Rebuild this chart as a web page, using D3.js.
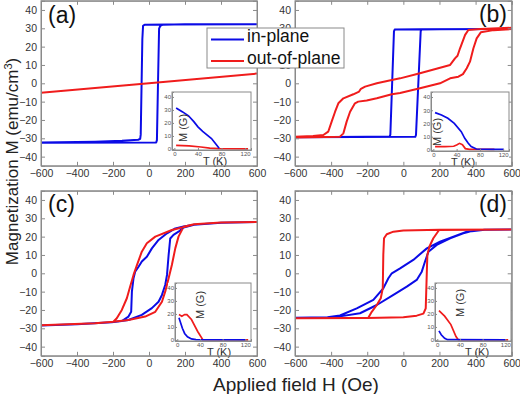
<!DOCTYPE html>
<html>
<head>
<meta charset="utf-8">
<script src="https://cdn.jsdelivr.net/npm/d3@7"></script>
<style>
  body { margin: 0; background: #fff; }
  text { font-family: "Liberation Sans", Arial, sans-serif; }
</style>
</head>
<body>
<svg id="chart" width="520" height="394"></svg>
<script>
// tick values
var fieldTicks = [-600, -400, -200, 0, 200, 400, 600]
var magTicks = [-40, -30, -20, -10, 0, 10, 20, 30, 40]
var tempTicks = [0, 40, 80, 120]
var insetMagTicks = [0, 10, 20, 30, 40]
var seriesNames = ['in-plane', 'out-of-plane']

// hysteresis loops [H (Oe), M (emu/cm3)], descending branch then ascending branch
var aInPlane = [[600,32.2],[100,32.1],[-25,31.9],[-33,31.4],[-37,24],[-46,-28],[-49,-30.3],[-60,-30.8],[-150,-31.4],[-300,-31.9],[-600,-32.3],
  [-600,-32.4],[40,-32.3],[44,-31],[50,0],[56,29.8],[63,31.4],[78,32],[200,32.2],[600,32.2]]
var aOutPlane = [[-600,-5.2],[0,0],[600,5.3]]

var bInPlane = [[600,29.6],[100,29.5],[-48,29.3],[-52,28.3],[-72,-28],[-76,-29.1],[-200,-29.2],[-600,-29.4],
  [-600,-29.4],[66,-29.2],[70,-28.2],[96,28.4],[100,29.3],[200,29.5],[600,29.6]]
var bOutPlane = [[600,30.3],[425,29.6],[360,29.1],[342,26.4],[314,19.1],[300,15],[286,13.6],[259,10],[92,5.5],[-18,2.7],[-64,1.8],[-147,0],[-212,-1.8],[-235,-3],[-245,-4.5],[-277,-6],[-332,-8.2],[-360,-10.9],[-378,-15.5],[-397,-20.9],[-416,-26.4],[-443,-28.2],[-500,-28.8],[-600,-29.2],
  [-600,-29.5],[-351,-29.1],[-332,-27.3],[-314,-20.9],[-295,-15.5],[-268,-10.9],[-250,-10],[-203,-9.4],[-147,-8.2],[-64,-6],[-18,-5.3],[92,-2.7],[203,0],[259,2.7],[305,3.6],[330,5],[351,8.2],[369,11.8],[388,19.1],[406,24.5],[429,27.8],[500,29],[600,29.6]]

var cInPlane = [[600,28],[400,27.6],[250,26.5],[192,25.5],[146,24.5],[100,21.8],[53,18.2],[16,13.6],[-12,9],[-40,6.4],[-58,3.6],[-77,0.9],[-86,-2.7],[-95,-10],[-99,-21],[-114,-23.6],[-151,-26],[-207,-26.7],[-400,-27.8],[-600,-28.5],
  [-600,-28.5],[-400,-27.8],[-207,-26.7],[-114,-25.5],[-40,-22.7],[16,-19],[53,-15.5],[72,-11.8],[90,-6.4],[100,-0.9],[109,10],[118,19],[136,21],[164,22.7],[192,25],[250,26.5],[400,27.6],[600,28]]
var cOutPlane = [[600,28],[400,27.7],[250,26.8],[201,25.4],[127,23.6],[35,20],[-12,16.4],[-40,11.8],[-67,4.5],[-86,-0.9],[-105,-7.3],[-123,-13.6],[-151,-20],[-179,-24.5],[-198,-26.4],[-300,-27.3],[-600,-28.3],
  [-600,-28.3],[-300,-27.3],[-198,-26.4],[-114,-25.5],[-21,-23.6],[35,-21],[72,-15.5],[90,-10],[109,-2.7],[127,4.5],[146,13.6],[164,20],[192,25.4],[250,26.8],[400,27.7],[600,28]]

var dInPlane = [[600,23.9],[450,23.7],[351,22.7],[277,20],[203,17.3],[130,13.6],[55,7.3],[-18,2.7],[-64,0],[-83,-2.7],[-111,-8.2],[-166,-14.5],[-258,-19.1],[-351,-23],[-420,-24],[-600,-24.3],
  [-600,-24.3],[-420,-24],[-351,-23.5],[-240,-21.8],[-147,-17.3],[-55,-11.8],[19,-7.3],[74,-3.6],[102,0.9],[120,6.4],[139,11.8],[185,15.5],[259,19.1],[332,21.8],[379,23],[450,23.7],[600,23.9]]
var dOutPlane = [[600,23.9],[200,23.7],[0,23.4],[-55,22.7],[-92,21.3],[-107,19.1],[-111,10],[-114,-8.2],[-125,-13.6],[-147,-17.3],[-175,-21],[-194,-24.2],[-300,-24.4],[-600,-24.5],
  [-600,-24.5],[-200,-24.4],[0,-24],[74,-23.1],[111,-22],[124,-19.1],[130,0.9],[133,10],[144,14.5],[166,19.1],[198,23.6],[400,23.8],[600,23.9]]

// insets: M (G) versus T (K)
var aInsetIn = [[3,31.5],[14,28.5],[24,25.5],[33,21],[40,17],[48,13.5],[63,8],[70,4],[76,0.5]]
var aInsetOut = [[3,2.8],[25,2.3],[45,1.5],[60,0.6],[75,0.2],[125,0.1]]
var bInsetIn = [[3,28.2],[14,26.4],[25,23.9],[36,20.1],[48,13.8],[54,8.8],[60,5],[65,2.5],[74,0.7],[100,0.5],[121,0.4]]
var bInsetOut = [[3,2.5],[20,2.5],[35,2.8],[40,3.8],[45,5],[50,4],[55,1],[62,0.4],[105,0.4]]
var cInsetIn = [[3,17],[6,13],[9,9],[13,5],[18,2.5],[25,0.8],[33,0.2],[120,0.1]]
var cInsetOut = [[3,19.5],[8,18.3],[13,19.5],[17,19.5],[25,15.7],[36,6.5],[45,0.2],[125,0.1]]
var dInsetIn = [[3,7],[7,4],[13,1.3],[18,0.2],[120,0.1]]
var dInsetOut = [[3,22.5],[13,18.3],[24,11.8],[33,2.6],[37,0.2],[125,0.1]]

var blue = '#0b0be6', red = '#f01c1c', frameColor = '#8a8a8a'

var panels = [
  {id:'a', label:'(a)', left:41, right:257, top:0.8, bottom:165.8, labelX:48, labelY:23, anchor:'start',
   blue:aInPlane, red:aOutPlane,
   inset:{left:172, right:251, top:92, bottom:150, blue:aInsetIn, red:aInsetOut, mx:11, my:36, tx:43}},
  {id:'b', label:'(b)', left:295, right:511.7, top:0.8, bottom:165.8, labelX:507, labelY:22, anchor:'end',
   blue:bInPlane, red:bOutPlane,
   inset:{left:431, right:509, top:92, bottom:151, blue:bInsetIn, red:bInsetOut, mx:6, my:40, tx:32}},
  {id:'c', label:'(c)', left:41, right:257, top:190.8, bottom:355.8, labelX:48, labelY:212, anchor:'start',
   blue:cInPlane, red:cOutPlane,
   inset:{left:175, right:251, top:283, bottom:341, blue:cInsetIn, red:cInsetOut, mx:25, my:22, tx:44}},
  {id:'d', label:'(d)', left:295, right:511.7, top:190.8, bottom:355.8, labelX:507, labelY:212, anchor:'end',
   blue:dInPlane, red:dOutPlane,
   inset:{left:435, right:511, top:283, bottom:341, blue:dInsetIn, red:dInsetOut, mx:25, my:20, tx:42}}
]

var svg = d3.select('#chart')
var defs = svg.append('defs')

function styleAxis(g, size, color) {
  g.select('.domain').attr('stroke', frameColor)
  g.selectAll('.tick line').attr('stroke', frameColor)
  g.selectAll('.tick text').attr('fill', color).style('font-size', size + 'px')
    .style('font-family', '"Liberation Sans", Arial, sans-serif')
}

panels.forEach(function(p) {
  var x = d3.scaleLinear().domain([-600, 600]).range([p.left, p.right])
  var y = d3.scaleLinear().domain([-45, 45]).range([p.bottom, p.top])
  var g = svg.append('g')

  defs.append('clipPath').attr('id', 'clip-' + p.id)
    .append('rect').attr('x', p.left).attr('y', p.top)
    .attr('width', p.right - p.left).attr('height', p.bottom - p.top)

  var line = d3.line().x(function(d) { return x(d[0]) }).y(function(d) { return y(d[1]) })
  var curves = g.append('g').attr('clip-path', 'url(#clip-' + p.id + ')')
  curves.append('path').datum(p.blue).attr('d', line)
    .attr('fill', 'none').attr('stroke', blue).attr('stroke-width', 2).attr('stroke-linejoin', 'round')
  curves.append('path').datum(p.red).attr('d', line)
    .attr('fill', 'none').attr('stroke', red).attr('stroke-width', 2).attr('stroke-linejoin', 'round')

  // axes, ticks pointing inward
  var gx = g.append('g').attr('transform', 'translate(0,' + p.bottom + ')')
    .call(d3.axisBottom(x).tickValues(fieldTicks).tickSize(-4).tickPadding(4))
  styleAxis(gx, 10.5, '#333')
  var gy = g.append('g').attr('transform', 'translate(' + p.left + ',0)')
    .call(d3.axisLeft(y).tickValues(magTicks).tickSize(-4).tickPadding(4))
  styleAxis(gy, 10.5, '#333')
  var gt = g.append('g').attr('transform', 'translate(0,' + p.top + ')')
    .call(d3.axisTop(x).tickValues(fieldTicks).tickSize(-4).tickFormat(''))
  styleAxis(gt, 10, '#333')
  var gr = g.append('g').attr('transform', 'translate(' + p.right + ',0)')
    .call(d3.axisRight(y).tickValues(magTicks).tickSize(-4).tickFormat(''))
  styleAxis(gr, 10, '#333')

  g.append('text').attr('x', p.labelX).attr('y', p.labelY)
    .attr('text-anchor', p.anchor).style('font-size', '23px').attr('fill', '#111')
    .text(p.label)

  // inset
  var s = p.inset
  var xi = d3.scaleLinear().domain([-4, 130]).range([s.left, s.right])
  var yi = d3.scaleLinear().domain([-0.8, 43.8]).range([s.bottom, s.top])
  var gi = g.append('g')
  gi.append('rect').attr('x', s.left - 7).attr('y', s.top)
    .attr('width', s.right - s.left + 7).attr('height', s.bottom - s.top + 7).attr('fill', '#fff')
  var li = d3.line().x(function(d) { return xi(d[0]) }).y(function(d) { return yi(d[1]) })
  gi.append('path').datum(s.red).attr('d', li)
    .attr('fill', 'none').attr('stroke', red).attr('stroke-width', 1.7)
  gi.append('path').datum(s.blue).attr('d', li)
    .attr('fill', 'none').attr('stroke', blue).attr('stroke-width', 1.7)
  var gix = gi.append('g').attr('transform', 'translate(0,' + s.bottom + ')')
    .call(d3.axisBottom(xi).tickValues(tempTicks).tickSize(-2).tickPadding(1.5))
  styleAxis(gix, 6, '#555')
  var giy = gi.append('g').attr('transform', 'translate(' + s.left + ',0)')
    .call(d3.axisLeft(yi).tickValues(insetMagTicks).tickSize(-2).tickPadding(1))
  styleAxis(giy, 6, '#555')
  gi.append('rect').attr('x', s.left).attr('y', s.top)
    .attr('width', s.right - s.left).attr('height', s.bottom - s.top)
    .attr('fill', 'none').attr('stroke', frameColor)
  gi.append('text').attr('x', s.left + s.tx).attr('y', s.bottom + 14.5)
    .attr('text-anchor', 'middle').style('font-size', '11px').attr('fill', '#333')
    .text('T (K)')
  gi.append('text')
    .attr('transform', 'translate(' + (s.left + s.mx + 4) + ',' + (s.top + s.my) + ') rotate(-90)')
    .attr('text-anchor', 'middle').style('font-size', '11px').attr('fill', '#333')
    .text('M (G)')

  g.append('rect').attr('x', p.left).attr('y', p.top)
    .attr('width', p.right - p.left).attr('height', p.bottom - p.top)
    .attr('fill', 'none').attr('stroke', frameColor)
})

// legend
var legend = svg.append('g')
legend.append('rect').attr('x', 207).attr('y', 28).attr('width', 137).attr('height', 40)
  .attr('fill', '#fff').attr('stroke', frameColor)
var legendColors = [blue, red]
seriesNames.forEach(function(name, i) {
  var yy = 39.5 + i * 21.5
  legend.append('line').attr('x1', 211).attr('x2', 244).attr('y1', yy).attr('y2', yy)
    .attr('stroke', legendColors[i]).attr('stroke-width', 2)
  legend.append('text').attr('x', 247).attr('y', yy + 2.7).style('font-size', '17.5px')
    .attr('fill', '#111').text(name)
})

// axis titles
svg.append('text').attr('x', 296).attr('y', 391).attr('text-anchor', 'middle')
  .style('font-size', '19px').attr('fill', '#222').text('Applied field H (Oe)')
var yt = svg.append('text').attr('transform', 'translate(18,161.5) rotate(-90)')
  .attr('text-anchor', 'middle').style('font-size', '17px').attr('fill', '#222')
yt.append('tspan').text('Magnetization M (emu/cm')
yt.append('tspan').attr('dy', -6).style('font-size', '11px').text('3')
yt.append('tspan').attr('dy', 6).text(')')
</script>
</body>
</html>
